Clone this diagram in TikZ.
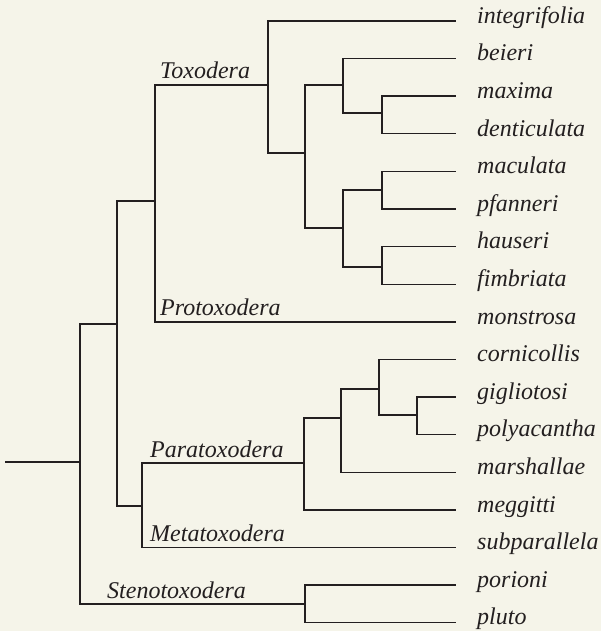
\documentclass[tikz,border=0pt]{standalone}
\usepackage{fontspec}
\setmainfont{Liberation Serif}
\usepackage{tikz}
\usepackage{xcolor}
\definecolor{paper}{HTML}{F5F4E9}
\definecolor{ink}{HTML}{231F20}

\begin{document}
\begin{tikzpicture}[x=1pt, y=-1pt,
    branch/.style={draw=ink, line width=1.4pt},
    leaf/.style={anchor=mid west, inner sep=0pt, text=ink,
                 font=\fontsize{24}{28}\selectfont\itshape},
    clade/.style={anchor=base west, inner sep=0pt, text=ink,
                  xshift=#1, yshift=6pt,
                  font=\fontsize{24}{28}\selectfont\itshape},
    clade/.default=6pt]
    \fill[paper] (0,0) rectangle (601,631);
    \useasboundingbox (0,0) rectangle (601,631);

    % tips
    \foreach \name [count=\i from 0] in {integrifolia,beieri,maxima,
        denticulata,maculata,pfanneri,hauseri,fimbriata,monstrosa,
        cornicollis,gigliotosi,polyacantha,marshallae,meggitti,
        subparallela,porioni,pluto} {
      \coordinate (\name) at (456,{21+37.6*\i});
      \node[leaf] (\name-t) at ([xshift=21pt]\name) {\name};
    }

    % inner nodes
    \coordinate (stem) at (5,462);
    \coordinate (root) at (80,462);
    \coordinate (A) at (117,324);
    \coordinate (B) at (155,201);
    \coordinate (Tox) at (268,85);
    \coordinate (T2) at (305,153);
    \coordinate (T3) at (343,85);
    \coordinate (T4) at (343,228);
    \coordinate (T5) at (382,113);
    \coordinate (T6) at (382,190);
    \coordinate (T7) at (382,267);
    \coordinate (C) at (142,506);
    \coordinate (Para) at (304,463);
    \coordinate (P2) at (341,418);
    \coordinate (P3) at (379,389);
    \coordinate (P4) at (417,415);
    \coordinate (Steno) at (305,604);

    % branches
    \draw[branch] (stem) -- (root);
    \foreach \from/\to in {root/A, root/Steno, A/B, A/C,
        B/Tox, B/monstrosa, Tox/integrifolia, Tox/T2, T2/T3, T2/T4,
        T3/beieri, T3/T5, T5/maxima, T5/denticulata, T4/T6, T4/T7,
        T6/maculata, T6/pfanneri, T7/hauseri, T7/fimbriata,
        C/Para, C/subparallela, Para/P2, Para/meggitti, P2/P3,
        P2/marshallae, P3/cornicollis, P3/P4, P4/gigliotosi,
        P4/polyacantha, Steno/porioni, Steno/pluto}
      \draw[branch] (\from) |- (\to);

    % genus labels
    \node[clade=5pt] (toxodera) at (B |- Tox) {Toxodera};
    \node[clade=5pt] (protoxodera) at (B |- monstrosa) {Protoxodera};
    \node[clade=8pt] (paratoxodera) at (C |- Para) {Paratoxodera};
    \node[clade=8pt] (metatoxodera) at (C |- subparallela) {Metatoxodera};
    \node[clade=27pt] (stenotoxodera) at (root |- Steno) {Stenotoxodera};
\end{tikzpicture}
\end{document}
